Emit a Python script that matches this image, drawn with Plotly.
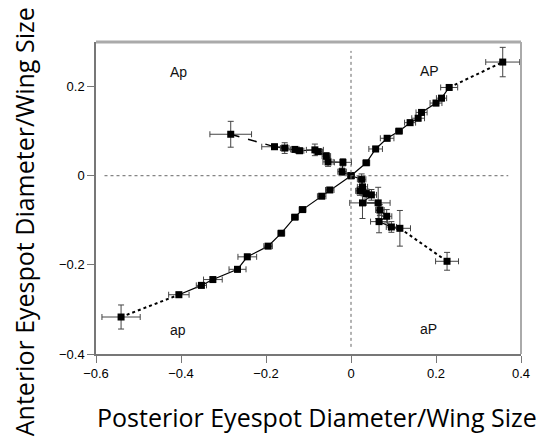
import plotly.graph_objects as go

# Main series (AP / ap diagonal)
main_x = [-0.541, -0.405, -0.352, -0.325, -0.267, -0.244, -0.195, -0.164, -0.132, -0.114, -0.069, -0.050,
          0.000, 0.036, 0.058, 0.085, 0.113, 0.139, 0.158, 0.166, 0.200, 0.213, 0.231, 0.357]
main_y = [-0.317, -0.267, -0.246, -0.233, -0.210, -0.182, -0.158, -0.129, -0.093, -0.076, -0.046, -0.032,
          0.000, 0.029, 0.060, 0.084, 0.100, 0.119, 0.129, 0.142, 0.163, 0.174, 0.198, 0.255]
main_ex = [0.045, 0.024, 0.012, 0.022, 0.020, 0.022, 0.010, 0.008, 0.008, 0.008, 0.010, 0.010,
           0.008, 0.008, 0.016, 0.016, 0.008, 0.013, 0.015, 0.013, 0.014, 0.012, 0.020, 0.040]
main_ey = [0.027, 0.006, 0.006, 0.006, 0.006, 0.006, 0.005, 0.005, 0.005, 0.005, 0.005, 0.005,
           0.005, 0.005, 0.006, 0.006, 0.005, 0.006, 0.006, 0.006, 0.006, 0.006, 0.006, 0.033]

# Opposite series (Ap / aP)
opp_x = [-0.283, -0.180, -0.156, -0.132, -0.121, -0.085, -0.077, -0.058, -0.054, -0.019, -0.021, 0.000,
         0.025, 0.027, 0.021, 0.036, 0.048, 0.027, 0.064, 0.068, 0.084, 0.066, 0.095, 0.115, 0.226]
opp_y = [0.093, 0.065, 0.062, 0.059, 0.056, 0.058, 0.054, 0.044, 0.031, 0.030, 0.009, 0.000,
         -0.008, -0.025, -0.034, -0.040, -0.043, -0.061, -0.061, -0.077, -0.091, -0.103, -0.115, -0.118, -0.192]
opp_ex = [0.049, 0.030, 0.010, 0.010, 0.010, 0.020, 0.010, 0.010, 0.012, 0.020, 0.010, 0.008,
          0.010, 0.012, 0.010, 0.012, 0.012, 0.030, 0.028, 0.010, 0.012, 0.020, 0.012, 0.025, 0.027]
opp_ey = [0.029, 0.006, 0.012, 0.006, 0.006, 0.013, 0.006, 0.008, 0.010, 0.008, 0.008, 0.005,
          0.012, 0.015, 0.010, 0.010, 0.012, 0.035, 0.035, 0.012, 0.015, 0.025, 0.012, 0.040, 0.020]

quad_labels = ["Ap", "AP", "ap", "aP"]
quad_x = [-0.406, 0.184, -0.407, 0.182]
quad_y = [0.232, 0.234, -0.347, -0.345]

x_ticks = [-0.6, -0.4, -0.2, 0, 0.2, 0.4]
y_ticks = [-0.4, -0.2, 0, 0.2]

fig = go.Figure()

def seg(xs, ys, dash, width):
    fig.add_trace(go.Scatter(x=xs, y=ys, mode="lines",
                             line=dict(color="black", width=width, dash=dash),
                             showlegend=False, hoverinfo="skip"))

# connecting lines
seg(main_x[:2], main_y[:2], "dot", 2)
seg(main_x[1:-1], main_y[1:-1], "solid", 1.2)
seg(main_x[-2:], main_y[-2:], "dot", 2)
seg(opp_x[:2], opp_y[:2], "dash", 1.5)
seg(opp_x[1:-1], opp_y[1:-1], "solid", 1.2)
seg(opp_x[-2:], opp_y[-2:], "dot", 2)

for xs, ys, exs, eys in [(main_x, main_y, main_ex, main_ey), (opp_x, opp_y, opp_ex, opp_ey)]:
    fig.add_trace(go.Scatter(
        x=xs, y=ys, mode="markers",
        marker=dict(symbol="square", size=7, color="black"),
        error_x=dict(type="data", array=exs, color="#444", thickness=1, width=3),
        error_y=dict(type="data", array=eys, color="#444", thickness=1, width=3),
        showlegend=False))

for t, x, y in zip(quad_labels, quad_x, quad_y):
    fig.add_annotation(x=x, y=y, text=t, showarrow=False,
                       font=dict(family="Liberation Sans, Arial", size=14, color="#111"))

# dotted zero lines
fig.add_shape(type="line", x0=0, x1=0, y0=-0.384, y1=0.28, xref="x", yref="y",
              line=dict(color="#666", width=1, dash="dot"))
fig.add_shape(type="line", x0=-0.58, x1=0.37, y0=0, y1=0, xref="x", yref="y",
              line=dict(color="#666", width=1, dash="dot"))
# top and right frame
fig.add_shape(type="line", x0=0, x1=1, y0=1, y1=1, xref="paper", yref="paper",
              line=dict(color="#aaa", width=3))
fig.add_shape(type="line", x0=1, x1=1, y0=0, y1=1, xref="paper", yref="paper",
              line=dict(color="#aaa", width=2))

axis_common = dict(showgrid=False, zeroline=False, showline=True, linecolor="#777", linewidth=1.5,
                   ticks="outside", ticklen=7, tickcolor="#777", tickwidth=1.2, automargin=False,
                   tickfont=dict(family="Liberation Sans, Arial", size=13, color="black"))

fig.update_layout(
    width=540, height=446,
    margin=dict(l=96, r=19, t=42, b=92),
    plot_bgcolor="white", paper_bgcolor="white",
    xaxis=dict(range=[-0.6, 0.4], tickvals=x_ticks, **axis_common),
    yaxis=dict(range=[-0.4, 0.3], tickvals=y_ticks, **axis_common),
)

fig.add_annotation(text="Posterior Eyespot Diameter/Wing Size", xref="paper", yref="paper",
                   x=0.521, y=-0.202, showarrow=False, xanchor="center", yanchor="middle",
                   font=dict(family="Open Sans", size=25, color="black"))
fig.add_annotation(text="Anterior Eyespot Diameter/Wing Size", xref="paper", yref="paper",
                   x=-0.169, y=0.423, showarrow=False, xanchor="center", yanchor="middle", textangle=-90,
                   font=dict(family="Open Sans", size=25, color="black"))

fig.write_html("out.html", config={"displayModeBar": False},
               post_script="document.body.style.margin='0';")
